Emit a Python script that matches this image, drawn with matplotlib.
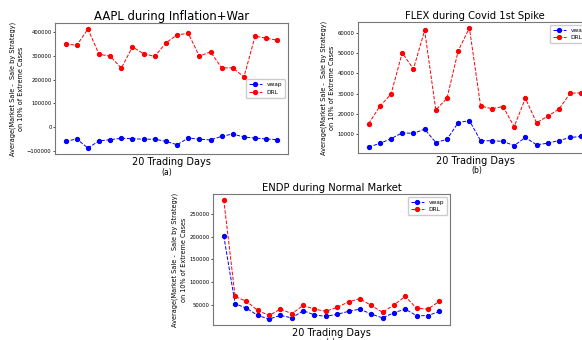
import matplotlib
matplotlib.use("Agg")
import matplotlib.pyplot as plt

days = list(range(1, 21))

aapl_vwap = [-59000, -49000, -87000, -57000, -52000, -46000, -48000, -50000, -50000, -59000,
             -73000, -45000, -50000, -53000, -38000, -28000, -41000, -45000, -49000, -52000]
aapl_drl = [350000, 343000, 412000, 306000, 298000, 248000, 337000, 308000, 297000, 354000,
            387000, 394000, 298000, 316000, 249000, 249000, 211000, 382000, 373000, 365000]

flex_vwap = [3800, 5600, 7900, 10800, 10500, 12600, 6000, 7600, 15800, 16800,
             6900, 6900, 6600, 4500, 8500, 4900, 5700, 7000, 8500, 9000]
flex_drl = [15300, 23800, 29800, 50100, 42100, 61100, 22000, 27800, 51100, 62300,
            24000, 22600, 23700, 13800, 27800, 15700, 19000, 22400, 30300, 30400]

endp_vwap = [201500, 52000, 42000, 26000, 18000, 26000, 20500, 36600, 27000, 24000,
             28500, 35000, 40000, 29000, 20500, 32000, 40000, 25500, 25500, 35000]
endp_drl = [281300, 68000, 57000, 37000, 26000, 40000, 30000, 48000, 40000, 35000,
            44000, 56000, 63000, 48000, 33000, 49000, 68000, 42000, 40000, 57000]

titles = ["AAPL during Inflation+War", "FLEX during Covid 1st Spike", "ENDP during Normal Market"]
ylabel = "Average(Market Sale -  Sale by Strategy)\non 10% of Extreme Cases"
xlabel = "20 Trading Days"
tags = ["(a)", "(b)", "(c)"]

W, H = 582, 340
fig = plt.figure(figsize=(W / 100, H / 100), dpi=100)
fig.patch.set_facecolor("white")

def rect(l, r, t, b):
    return [l / W, (H - b) / H, (r - l) / W, (b - t) / H]

specs = [
    (rect(55, 288, 23, 154), aapl_vwap, aapl_drl, titles[0], 8.4, "center right", (167, 172)),
    (rect(358, 592, 22, 153), flex_vwap, flex_drl, titles[1], 7.2, "upper right", (477, 170)),
    (rect(213, 450, 194, 325), endp_vwap, endp_drl, titles[2], 7.2, "upper right", (330, 342)),
]

for (r, vw, dr, title, tsize, loc, tagpos), tag in zip(specs, tags):
    ax = fig.add_axes(r)
    ax.plot(days, vw, color="blue", linestyle="--", marker="o", markersize=2.8,
            linewidth=0.7, label="vwap")
    ax.plot(days, dr, color="red", linestyle="--", marker="o", markersize=2.8,
            linewidth=0.7, label="DRL")
    ax.set_xticks([])
    ax.set_title(title, fontsize=tsize, pad=2)
    ax.set_xlabel(xlabel, fontsize=7, labelpad=2.5)
    ax.set_ylabel(ylabel, fontsize=4.7, labelpad=2, linespacing=1.45)
    ax.tick_params(axis="y", labelsize=3.8, length=1.5, width=0.5, pad=1)
    for s in ax.spines.values():
        s.set_color("#777777")
        s.set_linewidth(0.8)
    ax.ticklabel_format(axis="y", style="plain")
    ax.legend(loc=loc, fontsize=4.2, markerscale=1.0, handlelength=2.2,
              borderpad=0.5, labelspacing=0.4, framealpha=1, edgecolor="#cccccc")
    fig.text(tagpos[0] / W, 1 - tagpos[1] / H, tag, fontsize=5.5, ha="center", va="center")

fig.savefig("out.png", dpi=100)
